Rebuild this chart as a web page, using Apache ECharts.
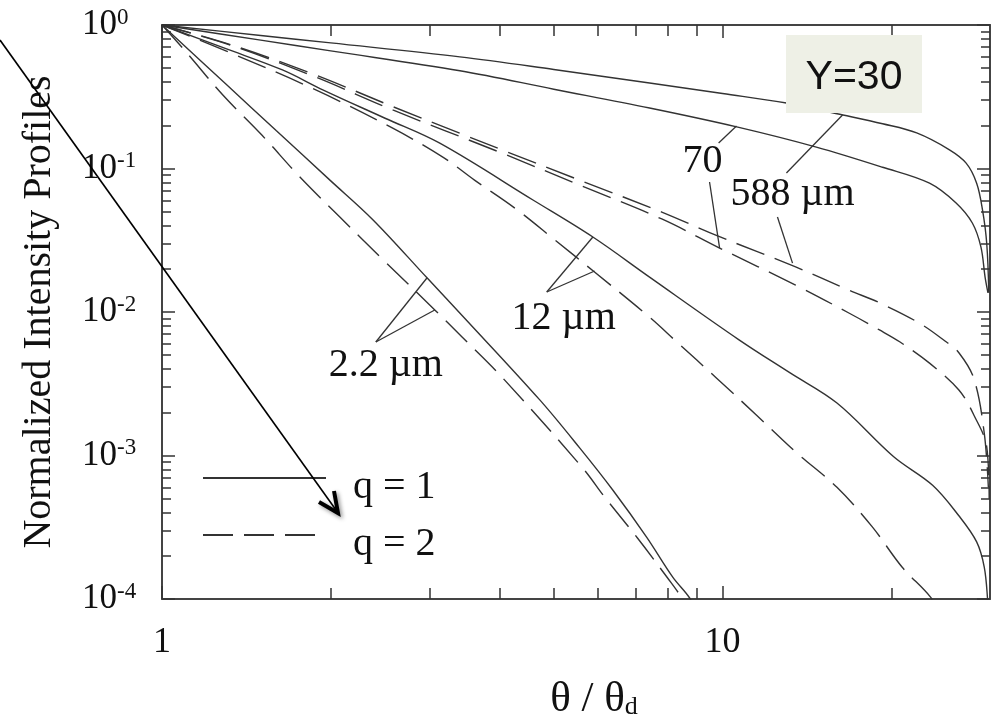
<!DOCTYPE html>
<html>
<head>
<meta charset="utf-8">
<script src="https://cdn.jsdelivr.net/npm/echarts@6/dist/echarts.min.js"></script>
<style>
  html, body { margin: 0; padding: 0; background: #ffffff; }
  #chart { width: 998px; height: 720px; }
</style>
</head>
<body>
<div id="chart"></div>
<script>
// Normalized intensity profiles against θ/θd, one curve per grain size.
// Each point is [θ/θd, normalized intensity].

// q = 1 (solid curves)
const q1_588um = [[1, 1], [1.5, 0.845], [2, 0.75], [3.4, 0.60], [5, 0.49], [7.41, 0.394], [10, 0.333],
  [13, 0.286], [16.4, 0.236], [19.3, 0.205], [22.2, 0.177], [25.4, 0.135], [27.2, 0.109],
  [28.4, 0.079], [29.1, 0.051], [29.6, 0.030], [29.85, 0.0136]];
const q1_70um = [[1, 1], [1.5, 0.784], [2, 0.66], [3.4, 0.48], [5, 0.357], [7.41, 0.264], [10.6, 0.195],
  [14.7, 0.141], [19.3, 0.102], [23.4, 0.079], [26.1, 0.0575], [27.9, 0.0417], [28.9, 0.0284],
  [29.4, 0.0175], [29.75, 0.0136]];
const q1_12um = [[1, 1], [1.3, 0.684], [1.64, 0.486], [1.94, 0.352], [2.5, 0.224], [3.13, 0.150],
  [4.59, 0.0603], [5.87, 0.0333], [7.41, 0.0175], [10.7, 0.0064], [13.2, 0.00376], [16.0, 0.00232],
  [20.2, 0.00098], [23.7, 0.00062], [26.4, 0.00038], [28.4, 0.00025], [29.3, 0.000167],
  [29.7, 0.0001], [29.9, 0.00006]];
const q1_2p2um = [[1, 1], [1.3, 0.388], [1.6, 0.183], [2.0, 0.082], [2.38, 0.0438], [2.97, 0.0173],
  [3.5, 0.0087], [4.72, 0.00244], [5.56, 0.00113], [6.37, 0.000575], [7.32, 0.00027],
  [8.15, 0.000142], [8.73, 0.000102], [9.0, 0.00008]];

// q = 2 (dashed curves)
const q2_588um = [[1, 1], [1.33, 0.726], [1.86, 0.456], [2.58, 0.270], [3.4, 0.176], [4.0, 0.137],
  [5.61, 0.0818], [7.79, 0.0497], [9.8, 0.0339], [13.5, 0.0206], [16.8, 0.0142], [19.05, 0.0116],
  [22.4, 0.0084], [24.9, 0.0063], [26.4, 0.0052], [28.1, 0.0034], [29.3, 0.00143], [29.8, 0.0006]];
const q2_70um = [[1, 1], [1.33, 0.72], [1.86, 0.441], [2.58, 0.256], [4.0, 0.130], [5.61, 0.0755],
  [7.79, 0.0445], [9.88, 0.0279], [13.5, 0.0154], [16.8, 0.00984], [19.05, 0.0075], [20.7, 0.0062],
  [23.4, 0.0044], [26.4, 0.00286], [28.1, 0.0019], [29.6, 0.00115], [29.9, 0.0005]];
const q2_12um = [[1, 1], [1.3, 0.66], [1.86, 0.36], [2.58, 0.191], [3.19, 0.118], [3.61, 0.083],
  [4.26, 0.053], [5.02, 0.0318], [5.91, 0.019], [7.41, 0.0092], [8.28, 0.0062], [9.75, 0.00347],
  [11.5, 0.00191], [13.5, 0.00106], [16.0, 0.0006], [18.5, 0.000318], [20.9, 0.000167],
  [23.5, 0.000103], [25, 0.00007]];
const q2_2p2um = [[1, 1], [1.108, 0.638], [1.284, 0.325], [1.507, 0.171], [1.762, 0.0873],
  [2.076, 0.0459], [2.45, 0.0242], [3.07, 0.0103], [3.43, 0.0067], [4.04, 0.00352],
  [5.63, 0.000818], [6.16, 0.000514], [7.05, 0.000266], [7.98, 0.00014], [8.45, 0.000102],
  [8.7, 0.00008]];

// Axis tick values
const xMajorTicks = [1, 10];
const xMinorTicks = [2, 3, 4, 5, 6, 7, 8, 9, 20];
const yMajorTicks = [1e-4, 1e-3, 1e-2, 1e-1, 1];
const yMinorTicks = [];
[1e-4, 1e-3, 1e-2, 1e-1].forEach(function (d) {
  for (let m = 2; m <= 9; m++) yMinorTicks.push(+(m * d).toPrecision(3));
});

// Curve labels: text and anchor [θ/θd, intensity]
const curveLabels = [['2.2 µm', 2.508, 0.00421], ['12 µm', 5.207, 0.00908], ['70', 9.21, 0.111], ['588 µm', 13.33, 0.0664]];
// Leader lines from each label to its curves: [θ1, I1, θ2, I2]
const leaderLines = [
  [2.407, 0.00618, 2.969, 0.01726], [2.407, 0.00618, 3.066, 0.01033],
  [4.857, 0.01378, 5.87, 0.0333], [4.857, 0.01378, 5.913, 0.0193],
  [9.84, 0.1506, 10.59, 0.1978], [9.48, 0.0805, 9.88, 0.0279],
  [13.0, 0.0930, 16.37, 0.236], [12.53, 0.0459, 13.33, 0.0219]
];

const SERIF = '"Liberation Serif", "DejaVu Serif", serif';
const INK = '#111111';
const CURVE = '#333333';
const DASH = [30, 11];

function xAxisDef(position, ticks, len, withLine, withLabel) {
  const ax = {
    type: 'log', logBase: 10, min: 1, max: 30, position: position,
    axisLine: { show: withLine, onZero: false, lineStyle: { color: '#444', width: 2 } },
    axisTick: { show: true, inside: true, length: len, customValues: ticks, lineStyle: { color: '#333', width: 1.5 } },
    minorTick: { show: false },
    splitLine: { show: false },
    axisLabel: { show: false }
  };
  if (withLabel) {
    ax.axisLabel = {
      show: true, customValues: xMajorTicks, margin: 26,
      fontSize: 36, fontFamily: SERIF, color: INK,
      formatter: function (v) { return String(Math.round(v)); }
    };
    ax.name = '{a|θ / θ}{d|d}';
    ax.nameLocation = 'middle';
    ax.nameGap = 63;
    ax.nameTextStyle = {
      padding: [0, 0, 0, 36],
      rich: {
        a: { fontSize: 43, fontFamily: SERIF, color: INK, lineHeight: 42, verticalAlign: 'top' },
        d: { fontSize: 26, fontFamily: SERIF, color: INK, lineHeight: 20, verticalAlign: 'bottom', padding: [28, 0, 0, 0] }
      }
    };
  }
  return ax;
}

function yAxisDef(position, ticks, len, withLine, withLabel) {
  const ax = {
    type: 'log', logBase: 10, min: 1e-4, max: 1, position: position,
    axisLine: { show: withLine, onZero: false, lineStyle: { color: '#444', width: 2 } },
    axisTick: { show: true, inside: true, length: len, customValues: ticks, lineStyle: { color: '#333', width: 1.5 } },
    minorTick: { show: false },
    splitLine: { show: false },
    axisLabel: { show: false }
  };
  if (withLabel) {
    ax.axisLabel = {
      show: true, customValues: yMajorTicks, margin: 80, align: 'left',
      formatter: function (v) { return '{b|10}{s|' + Math.round(Math.log10(v)) + '}'; },
      rich: {
        b: { fontSize: 35, fontFamily: SERIF, color: INK, lineHeight: 38 },
        s: { fontSize: 23, fontFamily: SERIF, color: INK, lineHeight: 20, verticalAlign: 'top' }
      }
    };
    ax.name = 'Normalized Intensity Profiles';
    ax.nameLocation = 'middle';
    ax.nameRotate = 90;
    ax.nameGap = 103;
    ax.nameTextStyle = { fontSize: 40, fontFamily: SERIF, color: INK };
  }
  return ax;
}

function curve(name, data, dashed) {
  return {
    type: 'line', name: name, data: data, xAxisIndex: 0, yAxisIndex: 0,
    symbol: 'none', smooth: 0.35, clip: true,
    lineStyle: { color: CURVE, width: 1.4, type: dashed ? DASH : 'solid' },
    itemStyle: { color: CURVE },
    emphasis: { disabled: true }, silent: true, z: 3
  };
}

const chart = echarts.init(document.getElementById('chart'), null, { renderer: 'canvas' });
chart.setOption({
  animation: false,
  backgroundColor: '#ffffff',
  grid: { left: 162, top: 25, right: 8, bottom: 121, containLabel: false, outerBoundsMode: 'none' },
  xAxis: [
    xAxisDef('bottom', xMajorTicks, 13, true, true),
    xAxisDef('bottom', xMinorTicks, 11, false, false),
    xAxisDef('top', xMajorTicks, 13, true, false),
    xAxisDef('top', xMinorTicks, 11, false, false)
  ],
  yAxis: [
    yAxisDef('left', yMajorTicks, 13, true, true),
    yAxisDef('left', yMinorTicks, 9, false, false),
    yAxisDef('right', yMajorTicks, 13, true, false),
    yAxisDef('right', yMinorTicks, 9, false, false)
  ],
  legend: {
    data: ['q = 1', 'q = 2'], orient: 'vertical', left: 202, top: 449, padding: 0,
    itemWidth: 123, itemHeight: 40, itemGap: -1, selectedMode: false,
    itemStyle: { opacity: 0 },
    formatter: function (name) { return '{t|' + name + '}'; },
    textStyle: {
      fontSize: 40, fontFamily: SERIF, color: INK,
      rich: { t: { fontSize: 40, fontFamily: SERIF, color: INK, lineHeight: 24, padding: [18, 0, 0, 22] } }
    }
  },
  series: [
    curve('q = 1', q1_588um, false),
    curve('q = 1', q1_70um, false),
    curve('q = 1', q1_12um, false),
    curve('q = 1', q1_2p2um, false),
    curve('q = 2', q2_588um, true),
    curve('q = 2', q2_70um, true),
    curve('q = 2', q2_12um, true),
    curve('q = 2', q2_2p2um, true),
    {
      type: 'custom', name: 'leaders', xAxisIndex: 0, yAxisIndex: 0, silent: true, z: 4,
      data: leaderLines, encode: { x: [0, 2], y: [1, 3] },
      renderItem: function (params, api) {
        const a = api.coord([api.value(0), api.value(1)]);
        const b = api.coord([api.value(2), api.value(3)]);
        return { type: 'line', shape: { x1: a[0], y1: a[1], x2: b[0], y2: b[1] }, style: { stroke: CURVE, lineWidth: 1.3 } };
      }
    },
    {
      type: 'custom', name: 'labels', xAxisIndex: 0, yAxisIndex: 0, silent: true, z: 5,
      data: curveLabels.map(function (l) { return [l[1], l[2]]; }),
      encode: { x: 0, y: 1 },
      renderItem: function (params, api) {
        const p = api.coord([api.value(0), api.value(1)]);
        return {
          type: 'text', x: p[0], y: p[1],
          style: { text: curveLabels[params.dataIndex][0], fontSize: 40, fontFamily: SERIF, fill: INK, align: 'center', verticalAlign: 'middle' }
        };
      }
    }
  ],
  graphic: [
    { type: 'rect', z: 100, shape: { x: 786, y: 35, width: 136, height: 78 }, style: { fill: '#EEF0E6' } },
    { type: 'text', z: 101, x: 854, y: 78, style: { text: 'Y=30', fontSize: 41, fontFamily: '"Liberation Sans", Arial, sans-serif', fill: '#111', align: 'center', verticalAlign: 'middle' } },
    { type: 'line', z: 100, shape: { x1: 0, y1: 40, x2: 336, y2: 510 }, style: { stroke: '#000', lineWidth: 1.6 } },
    { type: 'polyline', z: 101, shape: { points: [[319, 502], [338, 513], [334, 491]] },
      style: { stroke: '#000', lineWidth: 4, fill: null, lineJoin: 'miter', shadowBlur: 4, shadowColor: 'rgba(0,0,0,0.45)', shadowOffsetX: 2, shadowOffsetY: 2 } }
  ]
});
</script>
</body>
</html>
